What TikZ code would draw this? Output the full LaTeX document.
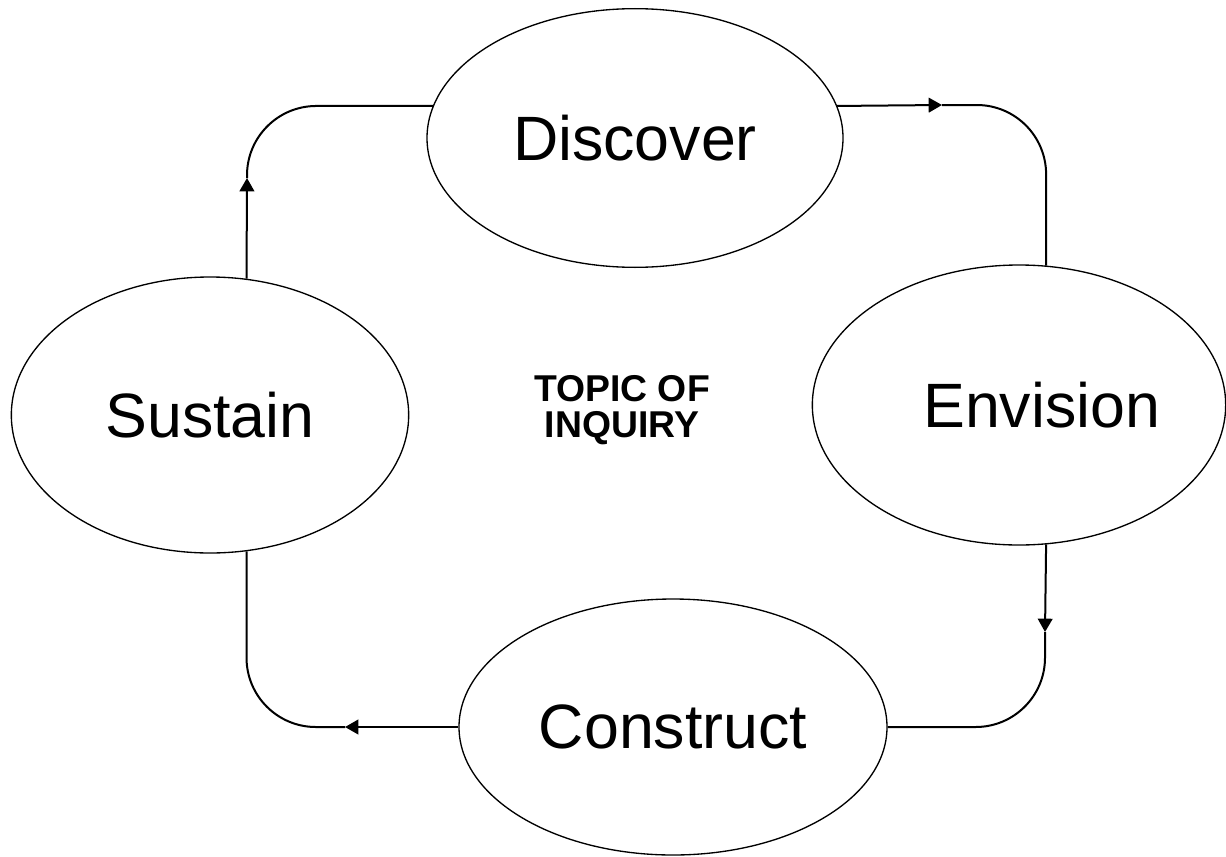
\documentclass[tikz,border=0pt]{standalone}
\usepackage{fontspec}
\setmainfont{Liberation Sans}
\usetikzlibrary{shapes.geometric,arrows.meta}

\begin{document}
\begin{tikzpicture}[x=0.75pt,y=-0.75pt,
	stage/.style={ellipse, draw, line width=1pt, inner sep=0pt, font=\fontsize{47}{56}\selectfont},
	flow/.style={line width=1.5pt, rounded corners=52pt},
	tip/.style={-{Triangle[length=10pt,width=11pt]}}]
	\useasboundingbox (0,0) rectangle (1226,856);
	\node (D) at ( 635, 138)	[stage, minimum width=312pt, minimum height=194pt]	{Discover};
	\node (E) at (1019, 405)	[stage, minimum width=310pt, minimum height=210pt]	{\hspace*{34pt}Envision};
	\node (C) at ( 673, 727)	[stage, minimum width=321pt, minimum height=192pt]	{Construct};
	\node (S) at ( 210, 415)	[stage, minimum width=298pt, minimum height=207pt]	{Sustain};
	\node (T) at ( 622, 410)	[font=\fontsize{28}{27}\selectfont\bfseries, align=center]	{TOPIC OF\\INQUIRY};
	\coordinate (A1) at ( 942, 105);
	\coordinate (A2) at (1045, 632);
	\coordinate (A3) at ( 345, 727);
	\coordinate (A4) at ( 247, 178);
	\draw[flow, tip] (D.9) -- (A1);
	\draw[flow] (A1) -| (E.79);
	\draw[flow, tip] (E.281) -- (A2);
	\draw[flow] (A2) |- (C.0);
	\draw[flow, tip] (C.180) -- (A3);
	\draw[flow] (A3) -| (S.285);
	\draw[flow, tip] (S.75) -- (A4);
	\draw[flow] (A4) |- (D.171);
\end{tikzpicture}
\end{document}
